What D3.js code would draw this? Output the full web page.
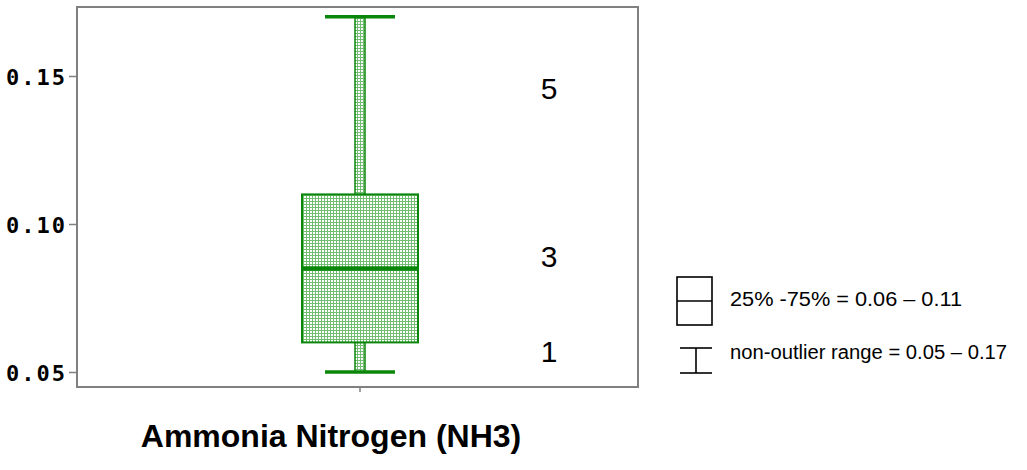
<!DOCTYPE html>
<html>
<head>
<meta charset="utf-8">
<script src="https://cdn.jsdelivr.net/npm/d3@7/dist/d3.min.js"></script>
<style>
  html, body { margin: 0; padding: 0; background: #fff; }
  svg { display: block; }
</style>
</head>
<body>
<svg id="chart" width="1027" height="470"></svg>
<script>
// Box summary for the one measured parameter
const categories   = ["Ammonia Nitrogen (NH3)"];
const whiskerLow   = [0.05];
const quartile1    = [0.06];
const medians      = [0.085];
const quartile3    = [0.11];
const whiskerHigh  = [0.17];

// Left axis ticks
const yTickValues = [0.05, 0.10, 0.15];
const yTickLabels = ["0.05", "0.10", "0.15"];

// Class markers written beside the box
const markerTexts  = ["5", "3", "1"];
const markerValues = [0.146, 0.089, 0.057];

// Legend entries
const legendTexts = ["25% -75% = 0.06 \u2013 0.11", "non-outlier range = 0.05 \u2013 0.17"];

const svg = d3.select("#chart");
const plot = { left: 77, right: 638, top: 7, bottom: 387 };
const green = "#0a870a";

const y = d3.scaleLinear().domain([0.044932, 0.173311]).range([plot.bottom, plot.top]);
const x = d3.scaleBand().domain(categories).range([plot.left, 643]).padding(0);

// Dotted fill used for the box and whisker stems
const defs = svg.append("defs");
const pat = defs.append("pattern")
  .attr("id", "dots").attr("patternUnits", "userSpaceOnUse")
  .attr("width", 3).attr("height", 3);
pat.append("rect").attr("width", 3).attr("height", 3).attr("fill", "#72bd72");
pat.append("rect").attr("x", 1).attr("y", 1).attr("width", 2).attr("height", 2).attr("fill", "#ffffff");

// Left axis
const yAxis = d3.axisLeft(y).tickValues(yTickValues).tickSize(8).tickFormat((d, i) => yTickLabels[i]);
const gy = svg.append("g").attr("transform", `translate(${plot.left},0)`).call(yAxis);
gy.select(".domain").remove();
gy.selectAll(".tick line").attr("stroke", "#808080").attr("stroke-width", 1.5);
gy.selectAll(".tick text")
  .attr("x", -71).attr("text-anchor", "start").attr("dy", "0.37em")
  .attr("font-family", "'DejaVu Sans Mono', monospace").attr("font-weight", "bold")
  .attr("font-size", 22).attr("letter-spacing", 2).attr("fill", "#000");

// Bottom axis tick (no label)
const xAxis = d3.axisBottom(x).tickSize(5).tickFormat("");
const gx = svg.append("g").attr("transform", `translate(0,${plot.bottom})`).call(xAxis);
gx.select(".domain").remove();
gx.selectAll(".tick line").attr("stroke", "#808080").attr("stroke-width", 1.5);

// Plot frame
svg.append("rect")
  .attr("x", plot.left).attr("y", plot.top)
  .attr("width", plot.right - plot.left).attr("height", plot.bottom - plot.top)
  .attr("fill", "none").attr("stroke", "#808080").attr("stroke-width", 2);

// Box plot
const boxW = 116, capW = 70, stemW = 10;
const data = categories.map((c, i) => ({
  c, lo: whiskerLow[i], q1: quartile1[i], med: medians[i], q3: quartile3[i], hi: whiskerHigh[i]
}));
const g = svg.append("g").selectAll("g").data(data).join("g");
const cx = d => x(d.c) + x.bandwidth() / 2;

// whisker stems
g.append("rect")
  .attr("x", d => cx(d) - stemW / 2).attr("y", d => y(d.hi))
  .attr("width", stemW).attr("height", d => y(d.q3) - y(d.hi))
  .attr("fill", "url(#dots)").attr("stroke", green).attr("stroke-width", 1.5);
g.append("rect")
  .attr("x", d => cx(d) - stemW / 2).attr("y", d => y(d.q1))
  .attr("width", stemW).attr("height", d => y(d.lo) - y(d.q1))
  .attr("fill", "url(#dots)").attr("stroke", green).attr("stroke-width", 1.5);

// whisker caps
g.selectAll(".cap").data(d => [d.lo, d.hi].map(v => ({ v, d }))).join("line")
  .attr("class", "cap")
  .attr("x1", e => cx(e.d) - capW / 2).attr("x2", e => cx(e.d) + capW / 2)
  .attr("y1", e => y(e.v)).attr("y2", e => y(e.v))
  .attr("stroke", green).attr("stroke-width", 3.5);

// interquartile box
g.append("rect")
  .attr("x", d => cx(d) - boxW / 2).attr("y", d => y(d.q3))
  .attr("width", boxW).attr("height", d => y(d.q1) - y(d.q3))
  .attr("fill", "url(#dots)").attr("stroke", green).attr("stroke-width", 2);

// median
g.append("line")
  .attr("x1", d => cx(d) - boxW / 2).attr("x2", d => cx(d) + boxW / 2)
  .attr("y1", d => y(d.med)).attr("y2", d => y(d.med))
  .attr("stroke", green).attr("stroke-width", 4.5);

// Class markers
svg.append("g").selectAll("text").data(markerTexts).join("text")
  .attr("x", 549).attr("y", (d, i) => y(markerValues[i]))
  .attr("dy", "0.36em").attr("text-anchor", "middle")
  .attr("font-family", "'Liberation Sans', Arial, sans-serif")
  .attr("font-size", 30).attr("fill", "#000")
  .text(d => d);

// Legend
const lg = svg.append("g").attr("fill", "none").attr("stroke", "#000").attr("stroke-width", 1.6);
lg.append("rect").attr("x", 677).attr("y", 277).attr("width", 35).attr("height", 48);
lg.append("line").attr("x1", 677).attr("x2", 712).attr("y1", 301).attr("y2", 301);
lg.append("line").attr("x1", 680).attr("x2", 712).attr("y1", 348).attr("y2", 348);
lg.append("line").attr("x1", 680).attr("x2", 712).attr("y1", 373).attr("y2", 373);
lg.append("line").attr("x1", 696).attr("x2", 696).attr("y1", 348).attr("y2", 373);

const legendWidths = [232, 277];
svg.append("g").selectAll("text").data(legendTexts).join("text")
  .attr("x", 730).attr("y", (d, i) => [306, 359][i])
  .attr("font-family", "'Liberation Sans', Arial, sans-serif")
  .attr("font-size", 20).attr("fill", "#000")
  .attr("textLength", (d, i) => legendWidths[i]).attr("lengthAdjust", "spacingAndGlyphs")
  .text(d => d);

// Category title
svg.append("text")
  .attr("x", 331).attr("y", 447).attr("text-anchor", "middle")
  .attr("font-family", "'Liberation Sans', Arial, sans-serif")
  .attr("font-weight", "bold").attr("font-size", 32).attr("fill", "#000")
  .text(categories[0]);
</script>
</body>
</html>
